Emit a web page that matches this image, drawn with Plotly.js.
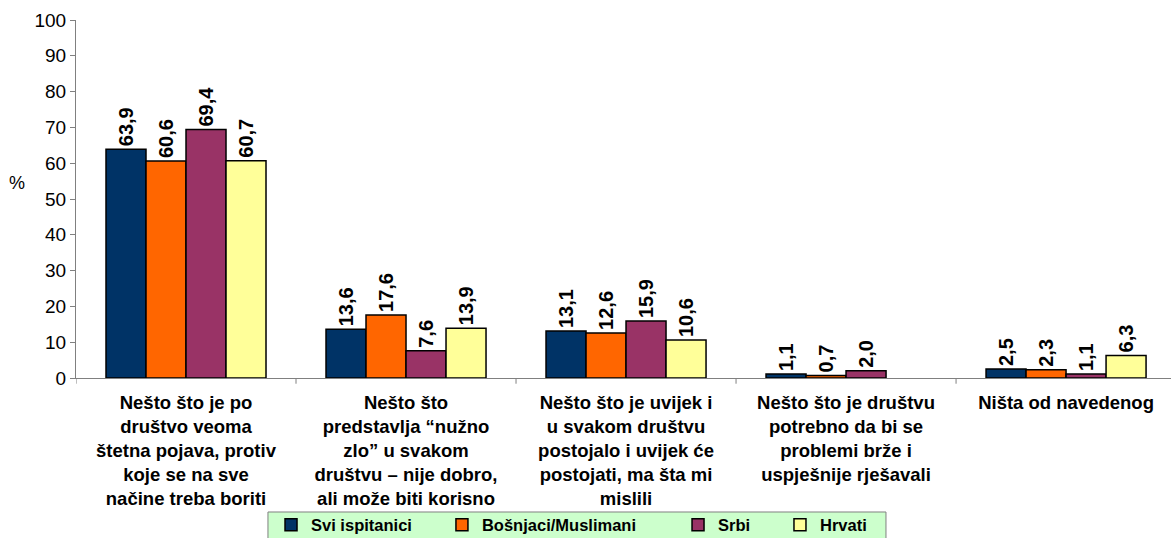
<!DOCTYPE html>
<html>
<head>
<meta charset="utf-8">
<script src="https://cdn.plot.ly/plotly-3.0.1.min.js"></script>
<style>html,body{margin:0;padding:0;background:#fff;}#chart{width:1171px;height:538px;}</style>
</head>
<body>
<div id="chart"></div>
<script>
var categories = [
  "Nešto što je po<br>društvo veoma<br>štetna pojava, protiv<br>koje se na sve<br>načine treba boriti",
  "Nešto što<br>predstavlja “nužno<br>zlo” u svakom<br>društvu – nije dobro,<br>ali može biti korisno",
  "Nešto što je uvijek i<br>u svakom društvu<br>postojalo i uvijek će<br>postojati, ma šta mi<br>mislili",
  "Nešto što je društvu<br>potrebno da bi se<br>problemi brže i<br>uspješnije rješavali",
  "Ništa od navedenog"
];
var seriesNames = ["Svi ispitanici", "Bošnjaci/Muslimani", "Srbi", "Hrvati"];
var sviIspitanici = [63.9, 13.6, 13.1, 1.1, 2.5];
var bosnjaci = [60.6, 17.6, 12.6, 0.7, 2.3];
var srbi = [69.4, 7.6, 15.9, 2.0, 1.1];
var hrvati = [60.7, 13.9, 10.6, null, 6.3];
var yTicks = [0, 10, 20, 30, 40, 50, 60, 70, 80, 90, 100];

var colors = ["#003366", "#FF6600", "#993366", "#FFFF99"];
var values = [sviIspitanici, bosnjaci, srbi, hrvati];
var xIdx = categories.map(function(_, i){ return i; });
var legendIds = ["legend", "legend2", "legend3", "legend4"];
var legendX = [0.1781, 0.3342, 0.5498, 0.6429];

var traces = values.map(function(v, k){
  return {
    type: "bar",
    name: seriesNames[k],
    legend: legendIds[k],
    x: xIdx,
    y: v,
    marker: {color: colors[k], line: {color: "#000000", width: 1.5}},
    texttemplate: "%{y:.1f}",
    textposition: "outside",
    textangle: -90,
    cliponaxis: false,
    constraintext: "none",
    textfont: {family: "Liberation Sans, Arial, sans-serif", size: 20, color: "#000", weight: "bold"},
    hoverinfo: "skip"
  };
});

var layout = {
  width: 1171, height: 538,
  margin: {l: 76, r: 0, t: 20, b: 160, autoexpand: false},
  paper_bgcolor: "#ffffff",
  plot_bgcolor: "#ffffff",
  separators: ", ",
  barmode: "group",
  bargap: 0.2727,
  bargroupgap: 0,
  showlegend: true,
  font: {family: "Liberation Sans, Arial, sans-serif", color: "#000"},
  xaxis: {
    type: "linear",
    range: [-0.5, 4.477],
    tickmode: "array",
    tickvals: xIdx,
    ticktext: categories,
    showgrid: false,
    zeroline: false,
    showline: true,
    linecolor: "#808080",
    linewidth: 1,
    ticks: "",
    ticklabelstandoff: 8,
    tickfont: {size: 18.5, weight: "bold", color: "#000"},
    automargin: false
  },
  yaxis: {
    range: [0, 100],
    tickmode: "array",
    tickvals: yTicks,
    ticktext: yTicks.map(String),
    showgrid: false,
    zeroline: false,
    showline: true,
    linecolor: "#808080",
    linewidth: 1,
    ticks: "outside",
    ticklen: 5,
    tickcolor: "#808080",
    tickfont: {size: 19, color: "#000"},
    automargin: false
  },
  annotations: [{
    text: "%", xref: "paper", yref: "paper", x: -0.0539, y: 0.545,
    xanchor: "center", yanchor: "middle", showarrow: false,
    font: {size: 18, color: "#000"}
  }],
  shapes: [0, 1, 2, 3, 4].map(function(b){
    return {type: "line", xref: "x", yref: "paper", x0: b - 0.5, x1: b - 0.5, y0: 0, y1: -0.016, line: {color: "#808080", width: 1}};
  }).concat([{
    type: "rect", xref: "paper", yref: "paper", x0: 0.1753, x1: 0.7397, y0: -0.3743, y1: -0.46,
    fillcolor: "#CCFFCC", line: {color: "#808080", width: 1}, layer: "below"
  }])
};

legendIds.forEach(function(id, k){
  layout[id] = {
    orientation: "h",
    x: legendX[k], xanchor: "left",
    y: -0.4106, yanchor: "middle",
    bgcolor: "rgba(0,0,0,0)",
    borderwidth: 0,
    font: {size: 16.5, weight: "bold", color: "#000"},
    itemwidth: 30
  };
});

Plotly.newPlot("chart", traces, layout, {staticPlot: true, displayModeBar: false});
</script>
</body>
</html>
